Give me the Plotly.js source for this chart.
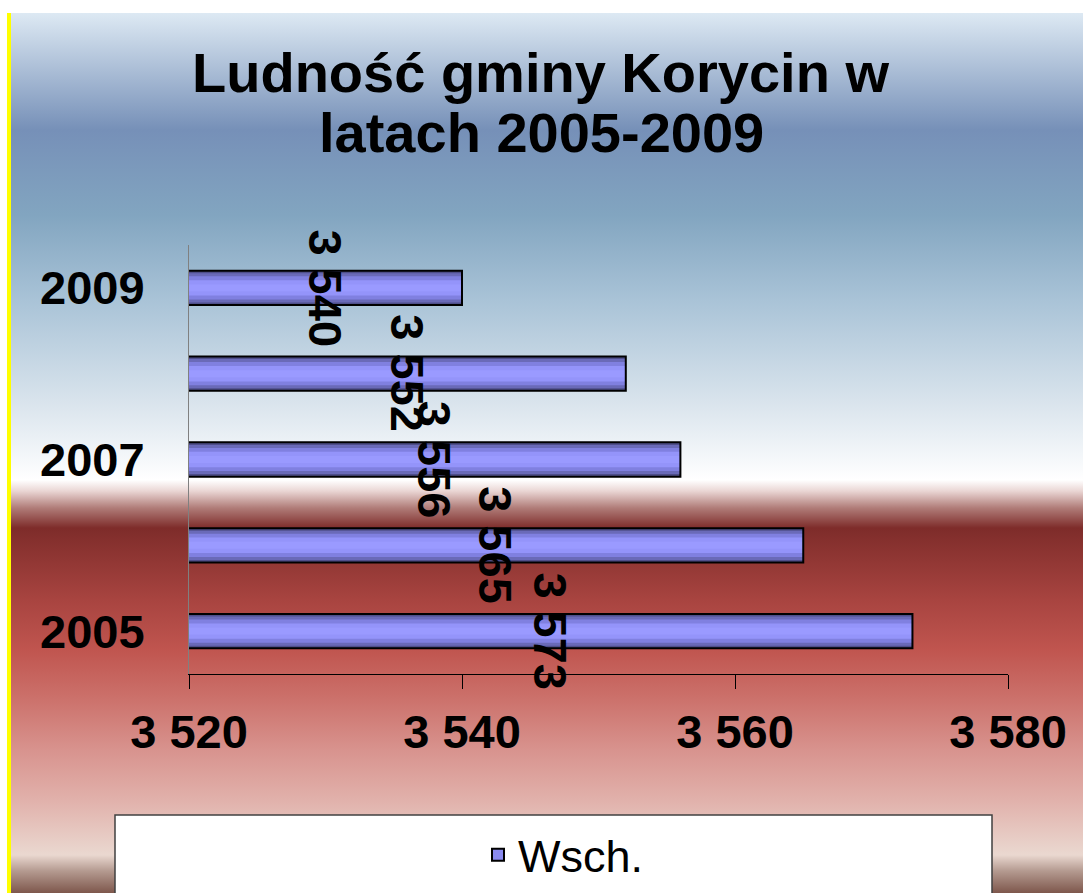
<!DOCTYPE html>
<html>
<head>
<meta charset="utf-8">
<script src="https://cdn.plot.ly/plotly-3.0.1.min.js"></script>
<style>
  html, body { margin: 0; padding: 0; background: #ffffff; width: 1083px; height: 893px; overflow: hidden; }
  #bg {
    position: absolute; left: 7px; top: 13px; width: 1076px; height: 880px;
    box-sizing: border-box; border-left: 4px solid #ffff00;
    background: linear-gradient(to bottom,
      #dde9f3 0px, #7690b8 117px, #82a5c0 202px, #a9c3d7 287px, #d8e3ec 387px,
      #ffffff 467px, #ead6d4 478px, #b07c78 495px, #7e2c2a 515px,
      #a84440 587px, #c0554f 637px, #cc726c 687px, #d8938e 737px,
      #e1b1ab 787px, #ead8d0 842px, #b49a90 858px, #7e574c 880px);
  }
  #chart { position: absolute; left: 0; top: 0; width: 1083px; height: 893px; }
</style>
</head>
<body>
<div id="bg"></div>
<div id="chart"></div>
<script>
// ---- data ----
var years = ["2005", "2006", "2007", "2008", "2009"];
var population = [3573, 3565, 3556, 3552, 3540];
var yearTicks = ["2005", "2007", "2009"];
var xTickVals = [3520, 3540, 3560, 3580];
var seriesName = "Wsch.";
var titleLine1 = "Ludność gminy Korycin w";
var titleLine2 = "latach 2005-2009";

var xMin = 3520, xMax = 3580;

function fmt(v) { return String(v).replace(/\B(?=(\d{3})+(?!\d))/g, " "); }

var FONT = "Liberation Sans, Arial, sans-serif";

// layered bars to imitate the cylinder-like gradient of the original
var layers = [
  {w: 0.40, c: "#4f4f8a"},
  {w: 0.34, c: "#6a6ab8"},
  {w: 0.27, c: "#8080e0"},
  {w: 0.18, c: "#9494fa"},
  {w: 0.08, c: "#9a9aff"}
];
var traces = layers.map(function (L, i) {
  return {
    type: "bar", orientation: "h",
    x: population, y: years, width: L.w,
    marker: {color: L.c, line: {width: 0}},
    name: seriesName, showlegend: false, hoverinfo: i === 0 ? "x+y" : "skip"
  };
});
// outline
traces.push({
  type: "bar", orientation: "h",
  x: population, y: years, width: 0.40,
  marker: {color: "rgba(0,0,0,0)", line: {width: 2, color: "#000000"}},
  name: seriesName, showlegend: false, hoverinfo: "skip"
});
// legend entry
traces.push({
  type: "bar", orientation: "h",
  x: [null], y: [years[0]],
  marker: {color: "#8a8af0", line: {width: 2, color: "#000000"}},
  name: seriesName, showlegend: true, hoverinfo: "skip"
});

var annotations = population.map(function (v, i) {
  return {
    x: (xMin + v) / 2, y: i, xref: "x", yref: "y",
    text: fmt(v), textangle: 90, showarrow: false,
    xanchor: "center", yanchor: "middle",
    font: {family: FONT, size: 47, weight: 700, color: "#000000"}
  };
});
annotations.push({
  xref: "paper", yref: "paper", x: (541 - 189) / 819, y: (674 - 132.5) / 429,
  xanchor: "center", yanchor: "middle", showarrow: false,
  text: titleLine2,
  font: {family: FONT, size: 56, weight: 700, color: "#000000"}
});

var layout = {
  width: 1083, height: 893, autosize: false,
  paper_bgcolor: "rgba(0,0,0,0)", plot_bgcolor: "rgba(0,0,0,0)",
  margin: {l: 189, r: 75, t: 245, b: 219, pad: 0, autoexpand: false},
  barmode: "overlay",
  title: {
    text: titleLine1, xref: "container", yref: "container",
    x: 540.5 / 1083, y: 1 - 72 / 893, xanchor: "center", yanchor: "middle",
    font: {family: FONT, size: 56, weight: 700, color: "#000000"}
  },
  xaxis: {
    range: [xMin, xMax], autorange: false, tickmode: "array", tickvals: xTickVals,
    ticktext: xTickVals.map(fmt),
    showgrid: false, zeroline: false, automargin: false,
    showline: true, linecolor: "#000000", linewidth: 1,
    ticks: "outside", ticklen: 14, tickcolor: "#000000", tickwidth: 1,
    ticklabelstandoff: 3,
    tickfont: {family: FONT, size: 47, weight: 700, color: "#000000"}
  },
  yaxis: {
    type: "category", categoryorder: "array", categoryarray: years,
    range: [-0.5, years.length - 0.5], autorange: false, automargin: false,
    tickmode: "array", tickvals: yearTicks, ticktext: yearTicks,
    showgrid: false, zeroline: false,
    showline: true, linecolor: "#808080", linewidth: 1,
    ticks: "", ticklabelstandoff: 34,
    tickfont: {family: FONT, size: 47, weight: 700, color: "#000000"}
  },
  showlegend: true,
  legend: {
    x: (478 - 189) / 819, y: (674 - 855) / 429, xanchor: "left", yanchor: "middle",
    bgcolor: "rgba(0,0,0,0)", borderwidth: 0,
    font: {family: FONT, size: 45, color: "#000000"}
  },
  shapes: [{
    type: "rect", xref: "paper", yref: "paper", layer: "below",
    x0: (115 - 189) / 819, x1: (992 - 189) / 819,
    y0: (674 - 815) / 429, y1: (674 - 900) / 429,
    fillcolor: "#ffffff", line: {color: "#404040", width: 1.5}
  }],
  annotations: annotations
};

Plotly.newPlot("chart", traces, layout, {displayModeBar: false, staticPlot: true});
</script>
</body>
</html>
